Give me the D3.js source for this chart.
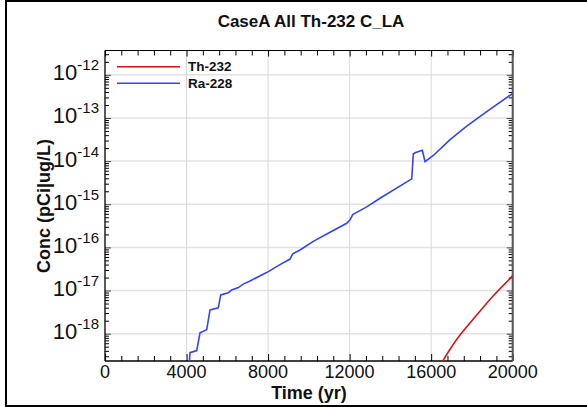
<!DOCTYPE html>
<html><head><meta charset="utf-8">
<script src="https://cdn.jsdelivr.net/npm/d3@7"></script>
<style>body{margin:0;background:#fff}svg{display:block}text{font-family:"Liberation Sans",Arial,sans-serif}</style>
</head><body>
<svg id="c" width="587" height="407"></svg>
<script>
const chartTitle = "CaseA All Th-232 C_LA";
const xLabel = "Time (yr)";
const yLabel = "Conc (pCi|ug/L)";
const seriesNames = ["Th-232", "Ra-228"];
const seriesColors = ["#dd1111", "#3344ff"];
const xTicks = [0, 4000, 8000, 12000, 16000, 20000];
const yTickExps = [-18, -17, -16, -15, -14, -13, -12];

const raYears = [4100, 4170, 4499, 4661, 4989, 5151, 5558, 5676, 6049, 6216, 6540, 6785, 7114, 7688, 8012, 8586, 9076, 9209, 9567, 10219, 11039, 11858, 12020, 12152, 12839, 13492, 15047, 15125, 15243, 15567, 15699, 16107, 16926, 17745, 18727, 20000];
const raConc = [1.26e-19, 3.63e-19, 4.07e-19, 1.05e-18, 1.23e-18, 3.55e-18, 3.98e-18, 7.94e-18, 8.91e-18, 1.035e-17, 1.17e-17, 1.41e-17, 1.66e-17, 2.29e-17, 2.75e-17, 3.98e-17, 5.37e-17, 7.08e-17, 8.71e-17, 1.38e-16, 2.24e-16, 3.63e-16, 4.37e-16, 5.75e-16, 8.71e-16, 1.38e-15, 3.89e-15, 1.48e-14, 1.58e-14, 1.78e-14, 9.77e-15, 1.35e-14, 3.16e-14, 6.46e-14, 1.41e-13, 3.72e-13];
const thYears = [16200, 16597, 17000, 17416, 18236, 19050, 20000];
const thConc = [1.10e-19, 2.45e-19, 4.9e-19, 9.33e-19, 2.72e-18, 7.59e-18, 2.19e-17];

const svg = d3.select("#c");
const L = 105, R = 512.7, T = 50.5, B = 361;
const x = d3.scaleLinear().domain([0, 20000]).range([L, R]);
const y = d3.scaleLog().domain([Math.pow(10, -18.633), Math.pow(10, -11.436)]).range([B, T]);

// frame
svg.append("rect").attr("x", 6).attr("y", 1).attr("width", 620).attr("height", 405)
  .attr("fill", "none").attr("stroke", "#000").attr("stroke-width", 2);

// grid
const g = svg.append("g");
g.selectAll("line.hg").data(yTickExps).join("line")
  .attr("x1", L).attr("x2", R)
  .attr("y1", d => y(Math.pow(10, d))).attr("y2", d => y(Math.pow(10, d)))
  .attr("stroke", "#e2e2e2").attr("stroke-width", 1.5);
g.selectAll("line.vg").data(xTicks.slice(1, -1)).join("line")
  .attr("y1", T).attr("y2", B)
  .attr("x1", d => x(d)).attr("x2", d => x(d))
  .attr("stroke", "#d8d8d8").attr("stroke-width", 1);

// minor ticks values
const xMinor = d3.range(0, 20001, 800).filter(v => xTicks.indexOf(v) < 0);
const yMinor = [];
for (let e = -19; e <= -12; e++) for (let m = 2; m <= 9; m++) {
  const v = m * Math.pow(10, e);
  if (v >= y.domain()[0] && v <= y.domain()[1]) yMinor.push(v);
}
const yMajor = yTickExps.map(e => Math.pow(10, e));

function drawAxis(axisGen, transform, color) {
  const a = svg.append("g").attr("transform", transform).call(axisGen);
  a.select(".domain").remove();
  a.selectAll("line").attr("stroke", color || "#000");
  a.selectAll("text").remove();
  return a;
}
drawAxis(d3.axisBottom(x).tickValues(xTicks).tickSize(-7), `translate(0,${B})`);
drawAxis(d3.axisBottom(x).tickValues(xMinor).tickSize(-5), `translate(0,${B})`);
drawAxis(d3.axisTop(x).tickValues(xTicks).tickSize(-6), `translate(0,${T})`);
drawAxis(d3.axisTop(x).tickValues(xMinor).tickSize(-5), `translate(0,${T})`);
drawAxis(d3.axisLeft(y).tickValues(yMajor).tickSize(-6), `translate(${L},0)`, "#444");
drawAxis(d3.axisLeft(y).tickValues(yMinor).tickSize(-4), `translate(${L},0)`);
drawAxis(d3.axisRight(y).tickValues(yMajor).tickSize(-6), `translate(${R},0)`, "#444");
drawAxis(d3.axisRight(y).tickValues(yMinor).tickSize(-4), `translate(${R},0)`);

// axis lines
svg.append("line").attr("x1", L).attr("x2", R).attr("y1", B).attr("y2", B).attr("stroke", "#000").attr("stroke-width", 1.3);
svg.append("line").attr("x1", L).attr("x2", R).attr("y1", T).attr("y2", T).attr("stroke", "#000").attr("stroke-width", 1.2);
svg.append("line").attr("x1", L).attr("x2", L).attr("y1", T).attr("y2", B).attr("stroke", "#000").attr("stroke-width", 1.3);
svg.append("line").attr("x1", R).attr("x2", R).attr("y1", T).attr("y2", B).attr("stroke", "#555").attr("stroke-width", 2);

// tick labels
svg.append("g").selectAll("text").data(xTicks).join("text")
  .attr("x", d => x(d)).attr("y", 378).attr("text-anchor", "middle")
  .attr("font-size", 18).attr("fill", "#111").text(d => d);
const yl = svg.append("g").selectAll("text").data(yTickExps).join("text")
  .attr("x", 99).attr("y", d => y(Math.pow(10, d)) + 5.5).attr("text-anchor", "end")
  .attr("font-size", 22).attr("fill", "#111");
yl.append("tspan").text("10");
yl.append("tspan").attr("font-size", 15).attr("dy", -10).text(d => d);

// lines
svg.append("clipPath").attr("id", "clip").append("rect")
  .attr("x", L).attr("y", T).attr("width", R - L).attr("height", B - T);
svg.append("path").datum(thYears.map((t, i) => [t, thConc[i]]))
  .attr("clip-path", "url(#clip)")
  .attr("d", d3.line().x(d => x(d[0])).y(d => y(d[1])).curve(d3.curveNatural)).attr("fill", "none")
  .attr("stroke", seriesColors[0]).attr("stroke-width", 1.6);
svg.append("path").datum(raYears.map((t, i) => [t, raConc[i]]))
  .attr("clip-path", "url(#clip)")
  .attr("d", d3.line().x(d => x(d[0])).y(d => y(d[1]))).attr("fill", "none")
  .attr("stroke", seriesColors[1]).attr("stroke-width", 1.6);

// legend
seriesNames.forEach((n, i) => {
  const yy = 66.7 + i * 16.6;
  svg.append("line").attr("x1", 117).attr("x2", 180).attr("y1", yy).attr("y2", yy)
    .attr("stroke", seriesColors[i]).attr("stroke-width", 1.6);
  svg.append("text").attr("x", 188).attr("y", yy + 4.5).attr("font-size", 13.5)
    .attr("font-weight", "bold").attr("fill", "#111").text(n);
});

// titles
svg.append("text").attr("x", 311).attr("y", 27).attr("text-anchor", "middle")
  .attr("font-size", 17).attr("font-weight", "bold").attr("fill", "#111").text(chartTitle);
svg.append("text").attr("x", 309).attr("y", 399).attr("text-anchor", "middle")
  .attr("font-size", 18).attr("font-weight", "bold").attr("fill", "#111").text(xLabel);
svg.append("text").attr("transform", "translate(50,206) rotate(-90)").attr("text-anchor", "middle")
  .attr("font-size", 18).attr("font-weight", "bold").attr("fill", "#111").text(yLabel);
</script>
</body></html>
